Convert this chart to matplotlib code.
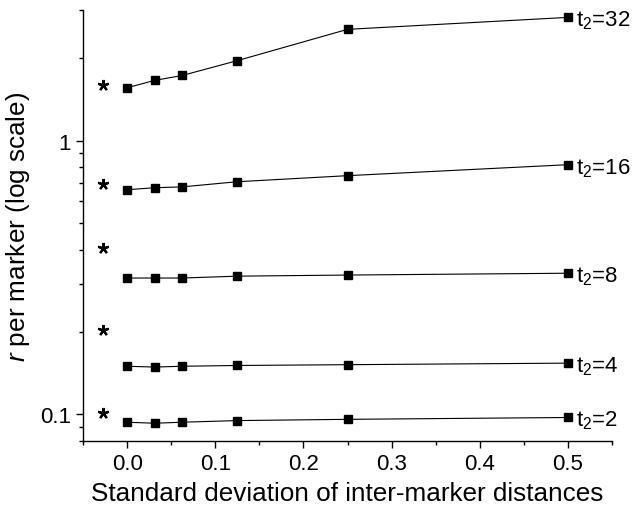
import numpy as np
import matplotlib
matplotlib.use("Agg")
import matplotlib.pyplot as plt
from matplotlib.ticker import FixedLocator, FixedFormatter, MultipleLocator, NullFormatter, FuncFormatter

plt.rcParams['font.family'] = ['Liberation Sans', 'DejaVu Sans']
plt.rcParams['mathtext.fontset'] = 'custom'
plt.rcParams['mathtext.rm'] = 'Liberation Sans'
plt.rcParams['mathtext.it'] = 'Liberation Sans:italic'

# x positions: standard deviation of inter-marker distances
sd = [0.0, 0.03125, 0.0625, 0.125, 0.25, 0.5]

# r per marker for each t2
t2_labels = ["32", "16", "8", "4", "2"]
r_t32 = [1.56, 1.66, 1.73, 1.96, 2.55, 2.82]
r_t16 = [0.662, 0.673, 0.678, 0.708, 0.745, 0.817]
r_t8 = [0.315, 0.315, 0.315, 0.320, 0.323, 0.328]
r_t4 = [0.150, 0.149, 0.150, 0.151, 0.152, 0.154]
r_t2 = [0.0937, 0.0929, 0.0937, 0.095, 0.096, 0.0975]
series = [r_t32, r_t16, r_t8, r_t4, r_t2]

# asterisk reference values
star_x = -0.027
star_y = [1.60, 0.695, 0.406, 0.203, 0.1016]

fig = plt.figure(figsize=(6.35, 5.1), dpi=100)
ax = fig.add_axes([0.1307, 0.1333, 0.8331, 0.8451])

for vals, lab in zip(series, t2_labels):
    ax.plot(sd, vals, color="black", lw=0.8, marker="s", ms=5.5, mfc="black", mec="black")
    ax.annotate("t$_2$=" + lab, xy=(sd[-1], vals[-1]), xytext=(6, -6),
                textcoords="offset points", fontsize=16, va="baseline", ha="left")

ax.plot([star_x] * len(star_y), star_y, ls="none", marker=(5, 2, 0), ms=8, mew=1.6,
        color="black")

ax.set_yscale("log")
ax.set_xlim(-0.05, 0.55)
ax.set_ylim(0.08, 3.0)

ax.xaxis.set_major_locator(MultipleLocator(0.1))
ax.xaxis.set_minor_locator(MultipleLocator(0.05))
ax.xaxis.set_major_formatter(FuncFormatter(lambda v, p: "%.1f" % v))

ax.yaxis.set_major_locator(FixedLocator([0.1, 1.0]))
ax.yaxis.set_major_formatter(FixedFormatter(["0.1", "1"]))
minor = [m * 10.0 ** e for e in (-2, -1, 0) for m in range(2, 10)]
ax.yaxis.set_minor_locator(FixedLocator(minor))
ax.yaxis.set_minor_formatter(NullFormatter())

for s in ("top", "right"):
    ax.spines[s].set_visible(False)
for s in ("left", "bottom"):
    ax.spines[s].set_linewidth(1.0)

ax.tick_params(which="major", direction="out", length=5, width=1.0, labelsize=16)
ax.tick_params(which="minor", direction="out", length=3, width=1.0)

ax.set_xlabel("Standard deviation of inter-marker distances", fontsize=18.8, labelpad=5)
ax.set_ylabel("$r$ per marker (log scale)", fontsize=18.8, labelpad=6)

fig.savefig("out.png", dpi=100)
